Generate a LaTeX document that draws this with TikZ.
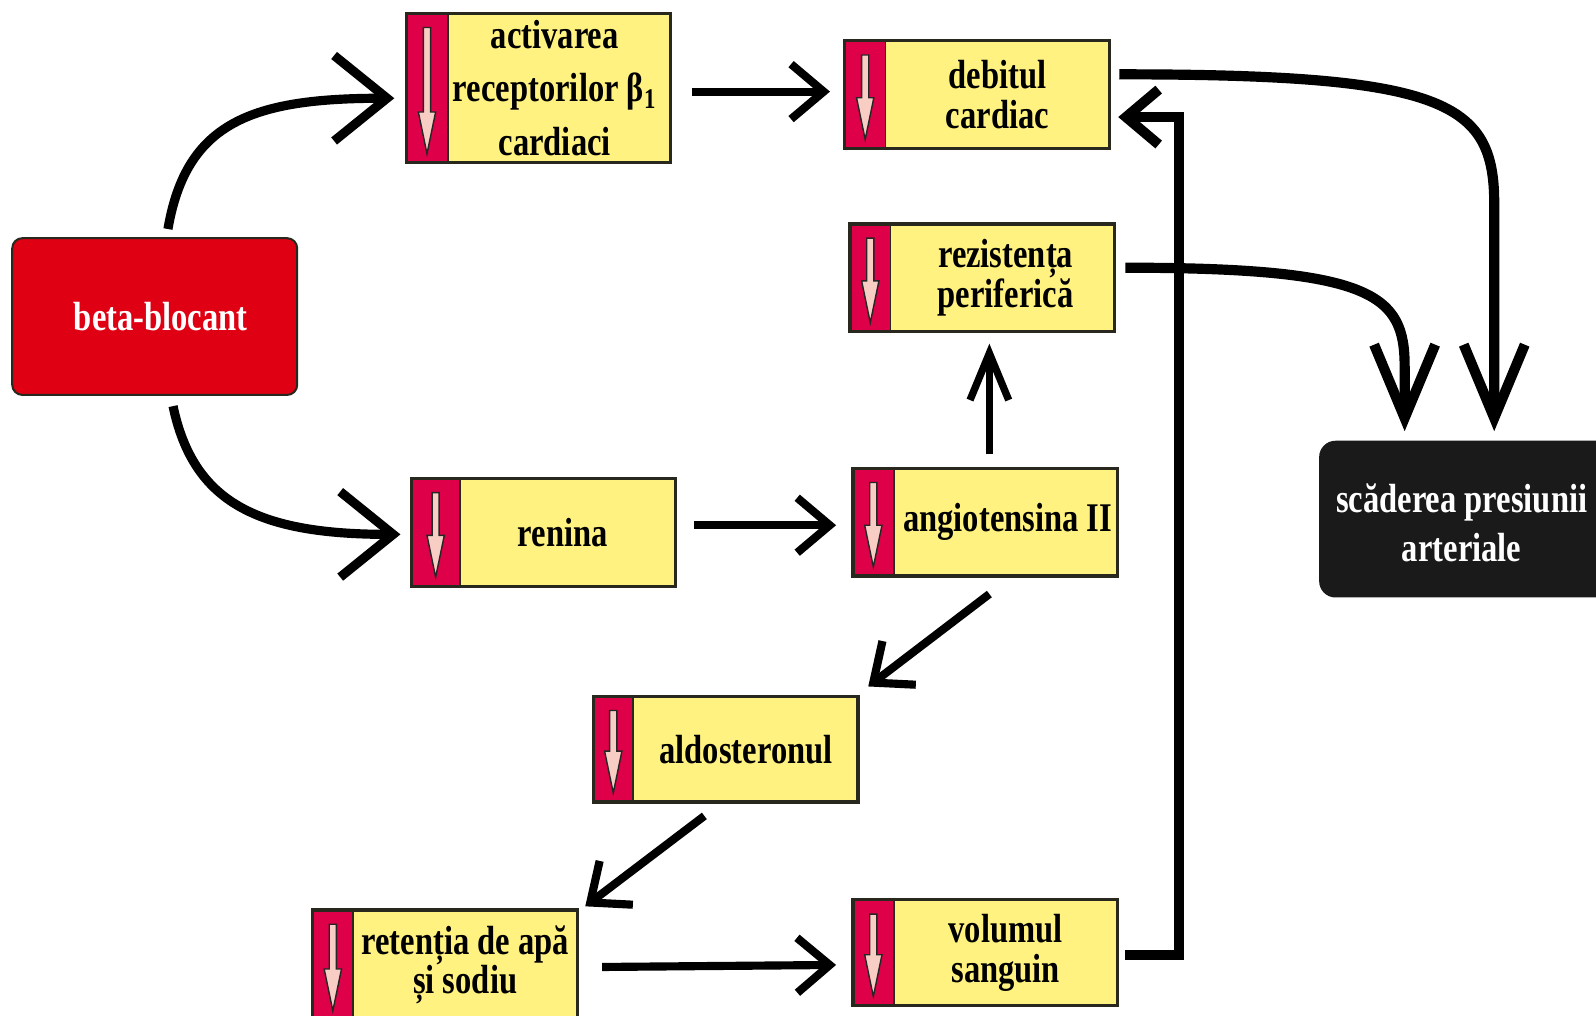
\documentclass[tikz,border=0pt]{standalone}
\usepackage{fontspec}
\setmainfont{Liberation Serif}[FakeStretch=0.8]
\usetikzlibrary{arrows.meta,fit,calc}
\definecolor{yel}{RGB}{255,242,128}
\definecolor{crim}{RGB}{222,0,72}
\definecolor{bred}{RGB}{224,0,20}
\definecolor{pnk}{RGB}{248,205,195}
\definecolor{bord}{RGB}{40,40,30}
\definecolor{blk}{RGB}{26,26,26}
\tikzset{
  txt/.style={font=\bfseries\fontsize{20}{19.5}\selectfont, align=center, inner sep=0pt},
  conn/.style={line width=4pt, -{Straight Barb[length=16pt,width=27pt]}},
  upconn/.style={line width=3.6pt, -{Straight Barb[length=23pt,width=19pt]}},
  bigconn/.style={line width=4.5pt, -{Straight Barb[length=26pt,width=42pt]}},
  downconn/.style={line width=5pt, -{Straight Barb[length=36pt,width=30pt]}},
}
\newcommand\mybox[8]{%
  \fill[yel] (#2,#3) rectangle (#4,#5);
  \fill[crim] (#2,#3) rectangle ({#2+#6},#5);
  \draw[bord, line width=0.8pt] ({#2+#6},#3) -- ({#2+#6},#5);
  \node[fit={(#2,#3)(#4,#5)}, inner sep=0pt, draw=bord, line width=1.6pt] (#1) {};
  \filldraw[fill=pnk, draw=black!85, line width=0.7pt]
    ({#2+#6/2-3.5},{#3+14}) -- ({#2+#6/2+3.5},{#3+14}) -- ({#2+#6/2+3.5},{#5-50})
    -- ({#2+#6/2+8.5},{#5-50}) -- ({#2+#6/2},{#5-9}) -- ({#2+#6/2-8.5},{#5-50})
    -- ({#2+#6/2-3.5},{#5-50}) -- cycle;
  \node[txt] (#1-t) at (#7,{(#3+#5)/2}) {#8};
}
\begin{document}
\begin{tikzpicture}[x=0.5pt,y=-0.5pt]
\useasboundingbox (0,0) rectangle (1568,998);
% beta-blocant
\node[fill=bred, draw=bord, line width=1pt, rounded corners=5pt, inner sep=0pt, fit={(12,234)(292,388)}] (beta) {};
\node[txt, text=white] (beta-t) at (158,311) {beta-blocant};
% result
\node[fill=blk, rounded corners=8pt, inner sep=0pt, fit={(1296,433)(1610,587)}] (scad) {};
\node[txt, text=white, font=\bfseries\fontsize{20}{24}\selectfont] (scad-t) at (1436,514) {scăderea presiunii\\arteriale};
% yellow boxes
\mybox{act}{399}{13}{659}{160}{41}{545}{activarea\\[7pt]receptorilor β\textsubscript{1}\\[7pt]cardiaci}
\mybox{deb}{830}{40}{1090}{146}{40}{980}{debitul\\cardiac}
\mybox{rez}{835}{220}{1095}{326}{40}{988}{rezistența\\periferică}
\mybox{ren}{404}{470}{664}{576}{48}{553}{renina}
\mybox{ang}{838}{460}{1098}{566}{40}{990}{angiotensina II}
\mybox{ald}{583}{684}{843}{788}{39}{733}{aldosteronul}
\mybox{ret}{307}{894}{567}{1002}{40}{457}{retenția de apă\\și sodiu}
\mybox{vol}{838}{884}{1098}{988}{40}{988}{volumul\\sanguin}
% connectors
\draw[bigconn] ($(beta.north)+(13,-8)$) .. controls +(18,-105) and +(-140,0) .. ($(act.west)+(-10,10)$);
\draw[bigconn] ($(beta.south)+(18,10)$) .. controls +(20,95) and +(-140,0) .. ($(ren.west)+(-9,2)$);
\draw[conn] ($(act.east)+(19,3.5)$) -- ($(deb.west)+(-13,-3)$);
\draw[conn] ($(ren.east)+(16,-7)$) -- ($(ang.west)+(-15,3)$);
\draw[upconn] ($(ang.north)+(4,-12)$) -- ($(rez.south)+(7,10)$);
\draw[conn] ($(ang.south)+(4,16)$) -- ($(ald.north)+(140,-8)$);
\draw[conn] ($(ald.south)+(-21,12)$) -- ($(ret.north)+(138,-2)$);
\draw[conn] ($(ret.east)+(23,2)$) -- ($(vol.west)+(-15,12)$);
\draw[conn, line width=5pt] ($(vol.east)+(6,2)$) -| ($(deb.east)+(67,22)$) -- ($(deb.east)+(7,22)$);
\draw[downconn] ($(deb.east)+(8,-20)$) .. controls (1420,73) and (1468,100) .. (1468,200) -- ($(scad.north)+(15,-9)$);
\draw[downconn] ($(rez.east)+(9,-10)$) .. controls (1350,263) and (1380,290) .. (1380,360) -- ($(scad.north)+(-73,-9)$);
\end{tikzpicture}
\end{document}
